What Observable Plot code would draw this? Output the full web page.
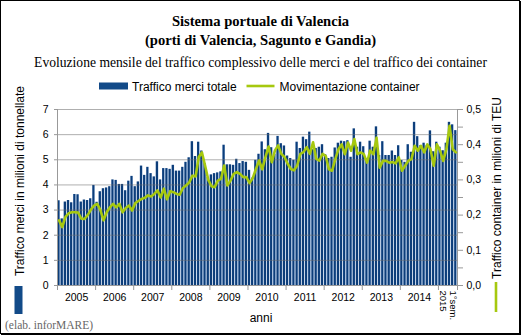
<!DOCTYPE html>
<html>
<head>
<meta charset="utf-8">
<script src="https://cdn.jsdelivr.net/npm/d3@7"></script>
<script src="https://cdn.jsdelivr.net/npm/@observablehq/plot@0.6"></script>
<style>
  html, body { margin: 0; padding: 0; background: #fff; }
  #wrap { width: 521px; height: 335px; position: relative; }
</style>
</head>
<body>
<div id="wrap"></div>
<script>
// Traffico merci totale (milioni di tonnellate), monthly
const merci2005 = [3.37, 2.65, 3.32, 3.38, 3.29, 3.62, 3.61, 3.32, 3.40, 3.38, 3.45, 3.98];
const merci2006 = [3.31, 3.73, 3.85, 3.88, 3.93, 4.20, 4.18, 4.02, 4.02, 3.77, 4.15, 4.34];
const merci2007 = [3.93, 4.12, 4.75, 4.38, 4.70, 4.45, 4.32, 4.92, 4.20, 4.65, 4.65, 4.62];
const merci2008 = [4.78, 4.55, 4.55, 4.70, 4.90, 5.08, 5.72, 5.13, 5.70, 5.35, 4.85, 4.30];
const merci2009 = [4.40, 4.45, 4.48, 4.52, 5.58, 4.80, 4.80, 4.78, 5.02, 4.85, 4.93, 4.90];
const merci2010 = [4.58, 4.27, 4.98, 5.22, 5.71, 5.40, 6.05, 5.48, 5.22, 5.93, 5.64, 5.55];
const merci2011 = [5.15, 5.05, 4.98, 5.70, 5.45, 5.90, 5.80, 6.10, 5.40, 5.45, 5.50, 5.60];
const merci2012 = [5.20, 5.05, 5.10, 5.47, 5.66, 5.74, 5.72, 5.76, 5.10, 6.23, 5.50, 5.70];
const merci2013 = [5.52, 5.03, 5.74, 5.50, 6.31, 5.17, 5.72, 5.17, 5.17, 5.35, 5.17, 5.56];
const merci2014 = [4.97, 4.90, 5.60, 5.30, 6.49, 5.92, 5.56, 5.66, 5.56, 6.15, 5.32, 5.70];
const merci2015 = [5.50, 5.36, 5.66, 6.49, 6.39, 6.16];

// Movimentazione container (milioni di TEU), monthly
const teu2005 = [0.185, 0.166, 0.195, 0.205, 0.208, 0.208, 0.207, 0.190, 0.189, 0.200, 0.215, 0.227];
const teu2006 = [0.232, 0.215, 0.185, 0.208, 0.222, 0.232, 0.222, 0.232, 0.208, 0.220, 0.227, 0.213];
const teu2007 = [0.234, 0.240, 0.246, 0.249, 0.256, 0.253, 0.260, 0.270, 0.250, 0.275, 0.245, 0.268];
const teu2008 = [0.265, 0.260, 0.258, 0.277, 0.284, 0.293, 0.312, 0.310, 0.365, 0.378, 0.340, 0.300];
const teu2009 = [0.282, 0.279, 0.298, 0.303, 0.341, 0.284, 0.298, 0.317, 0.322, 0.317, 0.308, 0.308];
const teu2010 = [0.291, 0.305, 0.331, 0.355, 0.330, 0.365, 0.395, 0.350, 0.384, 0.398, 0.374, 0.365];
const teu2011 = [0.346, 0.331, 0.327, 0.341, 0.374, 0.379, 0.393, 0.374, 0.407, 0.360, 0.355, 0.374];
const teu2012 = [0.368, 0.330, 0.326, 0.359, 0.387, 0.401, 0.373, 0.406, 0.383, 0.416, 0.373, 0.378];
const teu2013 = [0.373, 0.349, 0.383, 0.373, 0.420, 0.335, 0.354, 0.354, 0.349, 0.351, 0.347, 0.364];
const teu2014 = [0.326, 0.340, 0.354, 0.359, 0.397, 0.383, 0.397, 0.378, 0.401, 0.387, 0.340, 0.401];
const teu2015 = [0.383, 0.354, 0.387, 0.454, 0.387, 0.378];

const yearLabels = ["2005", "2006", "2007", "2008", "2009", "2010", "2011", "2012", "2013", "2014"];
const lastLabel = "1°sem.\n2015";
const leftTicks = [0, 1, 2, 3, 4, 5, 6, 7];
const rightTicks = [0, 0.1, 0.2, 0.3, 0.4, 0.5];
const rightMinor = [0.05, 0.15, 0.25, 0.35, 0.45];

const merci = [].concat(merci2005, merci2006, merci2007, merci2008, merci2009, merci2010,
  merci2011, merci2012, merci2013, merci2014, merci2015);
const teu = [].concat(teu2005, teu2006, teu2007, teu2008, teu2009, teu2010,
  teu2011, teu2012, teu2013, teu2014, teu2015);

const K = 7 / 0.5; // right axis -> left axis factor
const data = merci.map((v, i) => ({i, merci: v, teu: teu[i]}));
const n = data.length;
const yearBounds = d3.range(0, 121, 12).concat([n]);
const yearCenters = yearLabels.map((d, k) => ({label: d, x: k * 12 + 6}));

const sans = "'Liberation Sans', Arial, sans-serif";
const serif = "'Liberation Serif', 'Times New Roman', serif";

const chart = Plot.plot({
  width: 521,
  height: 335,
  marginTop: 109,
  marginBottom: 50,
  marginLeft: 57,
  marginRight: 64,
  style: {fontFamily: sans, fontSize: "10px", background: "white", color: "black"},
  x: {domain: [0, n], axis: null},
  y: {domain: [0, 7], axis: null},
  marks: [
    Plot.rectY(data, {x1: "i", x2: d => d.i + 1, y: "merci", fill: "url(#barGrad)", insetLeft: 0.3, insetRight: 0.4}),
    Plot.ruleY(leftTicks.slice(1), {stroke: "#6e6e6e", strokeOpacity: 0.55}),
    Plot.ruleY([0], {stroke: "#999"}),
    Plot.ruleX([0, n], {y1: 0, y2: 7, stroke: "#999"}),
    Plot.line(data, {x: d => d.i + 0.5, y: d => d.teu * K, stroke: "#a6c80f", strokeWidth: 2.6, strokeLinejoin: "round"}),
    Plot.axisY({anchor: "left", ticks: leftTicks, tickFormat: d => String(d), tickSize: 3, tickPadding: 6, stroke: "#999", fill: "black", fontSize: 10.5, label: null}),
    Plot.axisY({anchor: "right", ticks: rightTicks.map(d => d * K), tickFormat: d => (d / K).toFixed(1).replace(".", ","), tickSize: 5, tickPadding: 4, stroke: "#999", fill: "black", fontSize: 10.5, label: null}),
    Plot.axisY({anchor: "right", ticks: rightMinor.map(d => d * K), tickFormat: () => "", tickSize: 5, stroke: "#999", label: null}),
    Plot.axisX({ticks: yearBounds, tickFormat: () => "", tickSize: 5, stroke: "#999", label: null}),
    Plot.text(yearCenters, {x: "x", text: "label", frameAnchor: "bottom", dy: 15, fontSize: 10.5, fill: "black"}),
    Plot.text([lastLabel], {x: () => 123, text: d => d, frameAnchor: "bottom", dy: 5, rotate: 90, textAnchor: "start", lineAnchor: "middle", fontSize: 9.5, fill: "black", lineHeight: 1})
  ]
});

document.getElementById("wrap").appendChild(chart);
const svg = d3.select(chart);

const defs = svg.insert("defs", ":first-child");
const g = defs.append("linearGradient").attr("id", "barGrad").attr("x1", "0").attr("x2", "1").attr("y1", "0").attr("y2", "0");
g.append("stop").attr("offset", "0%").attr("stop-color", "#1f5293");
g.append("stop").attr("offset", "30%").attr("stop-color", "#0c3d79");
g.append("stop").attr("offset", "75%").attr("stop-color", "#0c3d79");
g.append("stop").attr("offset", "100%").attr("stop-color", "#4f7fba");

function addText(x, y, str, opts = {}) {
  return svg.append("text")
    .attr("x", x).attr("y", y)
    .attr("text-anchor", opts.anchor || "start")
    .attr("font-family", opts.family || sans)
    .attr("font-size", opts.size || 12)
    .attr("font-weight", opts.weight || "normal")
    .attr("fill", opts.fill || "black")
    .attr("transform", opts.transform || null)
    .text(str);
}

// titles
addText(260.5, 26, "Sistema portuale di Valencia", {anchor: "middle", family: serif, weight: "bold", size: 14.6});
addText(260.5, 44.5, "(porti di Valencia, Sagunto e Gandia)", {anchor: "middle", family: serif, weight: "bold", size: 14.6});
addText(260.5, 67, "Evoluzione mensile del traffico complessivo delle merci e del traffico dei container", {anchor: "middle", family: serif, size: 13.6});

// legend
svg.append("rect").attr("x", 99).attr("y", 82.5).attr("width", 29).attr("height", 7).attr("fill", "#124a88");
addText(132, 90.5, "Traffico merci totale");
svg.append("line").attr("x1", 246.5).attr("x2", 274.5).attr("y1", 86).attr("y2", 86)
  .attr("stroke", "#a6c80f").attr("stroke-width", 2.6);
addText(279.5, 90.5, "Movimentazione container");

// axis titles
addText(0, 0, "Traffico merci in milioni di tonnellate", {anchor: "middle", transform: "translate(23.5,181) rotate(-90)"});
svg.append("rect").attr("x", 14.5).attr("y", 286).attr("width", 8).attr("height", 28).attr("fill", "#124a88");
addText(0, 0, "Traffico container in milioni di TEU", {anchor: "middle", transform: "translate(500.5,188) rotate(-90)"});
svg.append("line").attr("x1", 496).attr("x2", 496).attr("y1", 282).attr("y2", 312)
  .attr("stroke", "#a6c80f").attr("stroke-width", 2.6);
addText(261, 322, "anni", {anchor: "middle"});

// caption
addText(5, 329, "(elab. inforMARE)", {family: serif, size: 11.5, fill: "#666"});

// frame
svg.append("rect").attr("x", 0.5).attr("y", 0.5).attr("width", 519).attr("height", 333)
  .attr("fill", "none").attr("stroke", "black").attr("stroke-width", 1);
svg.append("line").attr("x1", 1).attr("x2", 521).attr("y1", 334.5).attr("y2", 334.5).attr("stroke", "black");
svg.append("line").attr("x1", 520.5).attr("x2", 520.5).attr("y1", 1).attr("y2", 335).attr("stroke", "black");
</script>
</body>
</html>
